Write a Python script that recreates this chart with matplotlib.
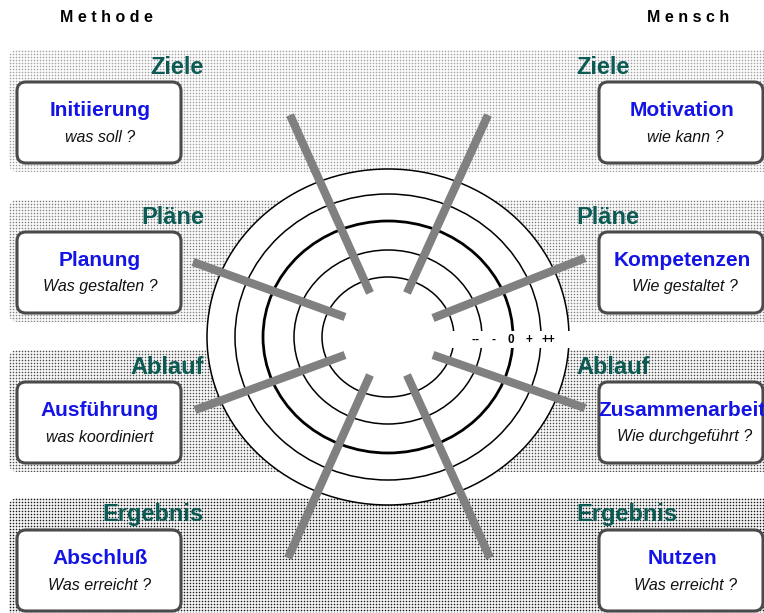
import numpy as np
import matplotlib
matplotlib.use("Agg")
import matplotlib.pyplot as plt
from matplotlib.patches import FancyBboxPatch, Ellipse, Rectangle

plt.rcParams['font.family'] = ['Liberation Sans', 'DejaVu Sans']

# --- content -------------------------------------------------------------
column_titles = ["M e t h o d e", "M e n s c h"]
phases = ["Ziele", "Pläne", "Ablauf", "Ergebnis"]
left_titles = ["Initiierung", "Planung", "Ausführung", "Abschluß"]
left_questions = ["was soll ?", "Was gestalten ?", "was koordiniert", "Was erreicht ?"]
right_titles = ["Motivation", "Kompetenzen", "Zusammenarbeit", "Nutzen"]
right_questions = ["wie kann ?", "Wie gestaltet ?", "Wie durchgeführt ?", "Was erreicht ?"]
scale_labels = ["--", "-", "0", "+", "++"]

# --- layout (pixel units) -----------------------------------------------
W, H = 764, 613
band_tops = [50, 200, 350, 498]
band_height = 122
band_dark = [0.32, 0.42, 0.60, 0.78]  # stipple darkness per band
teal = '#0c5a54'
blue = '#1414e6'
grey = '#808080'

cx, cy = 388, 337
ring_rx = [181, 153, 125, 94, 66]
ring_ry = [168, 143, 116, 87, 60]
scale_x = [475, 493, 511, 529, 548]

spokes = [((370, 293), (290, 115)), ((407, 293), (488, 115)),
          ((345, 317), (193, 262)), ((433, 318), (585, 258)),
          ((345, 355), (195, 410)), ((433, 355), (585, 408)),
          ((370, 375), (288, 558)), ((407, 375), (490, 558))]

fig = plt.figure(figsize=(W / 100, H / 100), dpi=100)
ax = fig.add_axes([0, 0, 1, 1])

# stippled bands
for top, dark in zip(band_tops, band_dark):
    x0, x1 = 9, W + 10
    yy, xx = np.indices((band_height, x1 - x0))
    on = (yy % 3 == 1) & (xx % 3 == 1)
    side = ((yy % 3 == 1) ^ (xx % 3 == 1))
    img = np.full((band_height, x1 - x0), 1 - dark * 0.06)
    img[on] = 1 - dark * 1.15
    img[side] = 1 - dark * 0.3
    img = np.clip(img, 0, 1)
    patch = FancyBboxPatch((x0, top), x1 - x0, band_height,
                           boxstyle="round,pad=0,rounding_size=9",
                           facecolor='none', edgecolor='none', zorder=1)
    ax.add_patch(patch)
    im = ax.imshow(img, cmap='gray', vmin=0, vmax=1, interpolation='nearest',
                   extent=(x0, x1, top + band_height, top), zorder=1)
    im.set_clip_path(patch)

ax.set_xlim(0, W)
ax.set_ylim(H, 0)
ax.set_aspect('auto')
ax.axis('off')

# target rings
for i, (rx, ry) in enumerate(zip(ring_rx, ring_ry)):
    ax.add_patch(Ellipse((cx, cy), 2 * rx, 2 * ry,
                         facecolor='white' if i == 0 else 'none',
                         edgecolor='black', lw=2.0 if i == 2 else 1.1, zorder=2))

# white strip behind the scale
ax.add_patch(Rectangle((446, 331), 128, 17, facecolor='white', edgecolor='none', zorder=3))
for x, lab in zip(scale_x, scale_labels):
    ax.text(x, 340, lab, ha='center', va='center', fontsize=8.5,
            fontweight='bold', zorder=6)

# spokes
for (x0, y0), (x1, y1) in spokes:
    ax.plot([x0, x1], [y0, y1], color=grey, lw=6, solid_capstyle='butt', zorder=4)

# column titles
ax.text(106, 18, column_titles[0], ha='center', va='center', fontsize=11.5, fontweight='bold')
ax.text(688, 18, column_titles[1], ha='center', va='center', fontsize=11.5, fontweight='bold')

# boxes and headers
for k, top in enumerate(band_tops):
    box_top = top + 32
    ax.text(204, top + 17, phases[k], ha='right', va='center', fontsize=17,
            fontweight='bold', color=teal, zorder=6)
    ax.text(576, top + 17, phases[k], ha='left', va='center', fontsize=17,
            fontweight='bold', color=teal, zorder=6)
    for bx, title, q in [(17, left_titles[k], left_questions[k]),
                         (599, right_titles[k], right_questions[k])]:
        ax.add_patch(FancyBboxPatch((bx, box_top), 164, 81,
                                    boxstyle="round,pad=0,rounding_size=9",
                                    facecolor='white', edgecolor='#4a4a4a',
                                    lw=2.2, zorder=5))
        mx = bx + 83
        ax.text(mx, box_top + 29, title, ha='center', va='center', fontsize=15,
                fontweight='bold', color=blue, zorder=6)
        ax.text(mx + (3 if bx > 300 else 0), box_top + 55, q, ha='center', va='center',
                fontsize=11.5, style='italic', color='#111111', zorder=6)

fig.savefig('out.png', dpi=100)
